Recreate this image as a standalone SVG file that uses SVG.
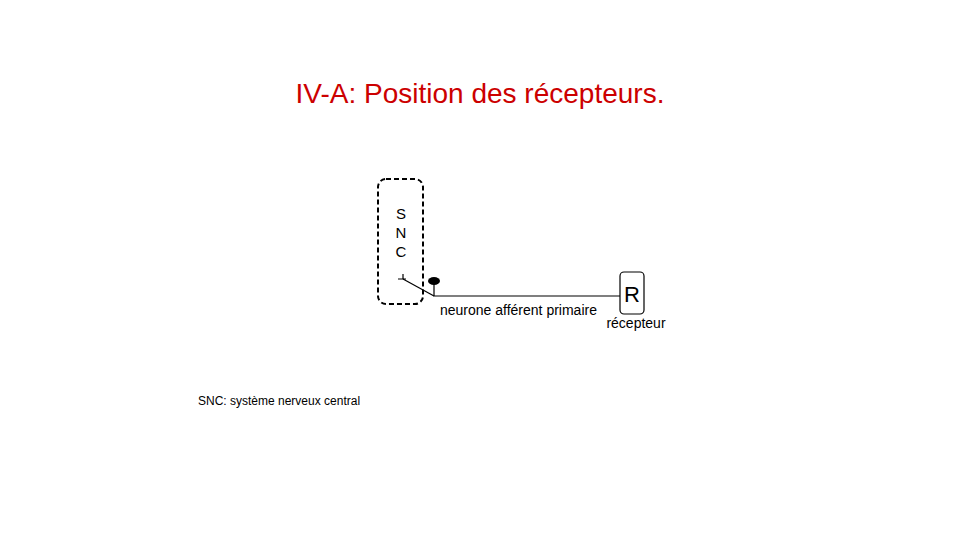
<svg xmlns="http://www.w3.org/2000/svg" width="960" height="540" viewBox="0 0 960 540">
  <style>
    text { font-family: "Liberation Sans", Arial, sans-serif; fill: #000; }
    .title { fill: #cc0000; font-size: 28px; }
    .line { stroke: #000; stroke-width: 1.2; fill: none; }
  </style>
  <rect width="960" height="540" fill="#fff"/>
  <text class="title" x="480" y="103" text-anchor="middle">IV-A: Position des récepteurs.</text>

  <g id="snc">
    <rect x="378" y="179" width="45" height="125" rx="8" ry="8" fill="none" stroke="#000" stroke-width="2" stroke-dasharray="5,3"/>
    <text x="401" y="219" font-size="15" text-anchor="middle">S</text>
    <text x="401" y="238" font-size="15" text-anchor="middle">N</text>
    <text x="401" y="257" font-size="15" text-anchor="middle">C</text>
  </g>

  <g id="recepteur">
    <rect x="620" y="272" width="24" height="42" rx="4" ry="4" fill="#fff" stroke="#000" stroke-width="1.2"/>
    <text x="632" y="302" font-size="22" text-anchor="middle">R</text>
    <text x="636" y="328" font-size="14" text-anchor="middle">récepteur</text>
  </g>

  <g id="connectors">
    <!-- synaptic terminal inside the CNS -->
    <path class="line" d="M398 279 H406 M403 279 V274"/>
    <path class="line" d="M403 279 L434 296"/>
    <!-- cell body and axon -->
    <ellipse cx="434" cy="281" rx="6" ry="4" fill="#000"/>
    <path class="line" d="M434 283 V296 H620"/>
    <text x="440" y="315" font-size="14">neurone afférent primaire</text>
  </g>

  <text x="198" y="405" font-size="12">SNC: système nerveux central</text>
</svg>
